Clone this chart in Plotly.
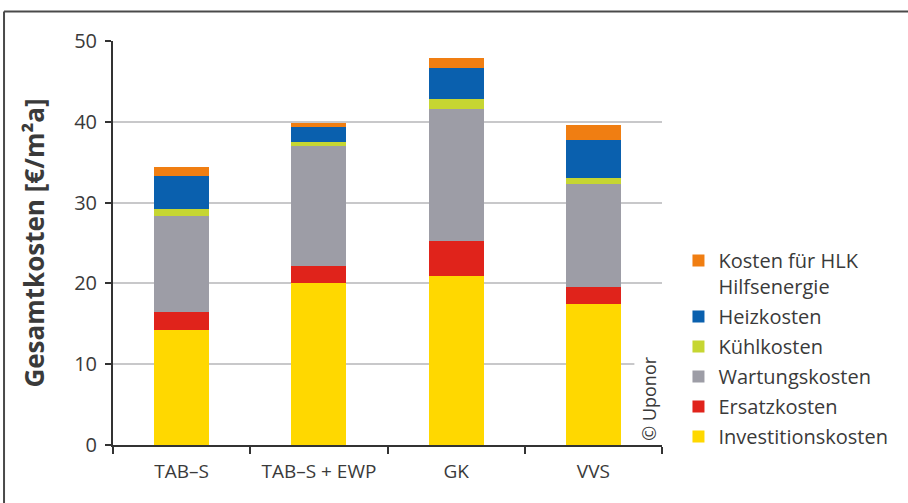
import plotly.graph_objects as go

# Gesamtkosten je System, gestapelt nach Kostenart [€/m²a]
categories = ["TAB–S", "TAB–S + EWP", "GK", "VVS"]
investitionskosten = [14.2, 20.1, 20.9, 17.4]
ersatzkosten = [2.3, 2.0, 4.4, 2.15]
wartungskosten = [11.8, 14.9, 16.3, 12.8]
kuehlkosten = [0.9, 0.5, 1.25, 0.75]
heizkosten = [4.15, 1.8, 3.8, 4.7]
hlk_hilfsenergie = [1.05, 0.6, 1.3, 1.8]

y_ticks = [0, 10, 20, 30, 40, 50]

series = [
    ("Investitionskosten", investitionskosten, "#FFD800"),
    ("Ersatzkosten", ersatzkosten, "#E0231B"),
    ("Wartungskosten", wartungskosten, "#9D9DA6"),
    ("Kühlkosten", kuehlkosten, "#C6D632"),
    ("Heizkosten", heizkosten, "#0A60AE"),
    ("Kosten für HLK<br>Hilfsenergie", hlk_hilfsenergie, "#F07E12"),
]

text_color = "#3a3a3a"
font_family = "Open Sans, sans-serif"

fig = go.Figure()
n = len(series)
for i, (name, vals, color) in enumerate(series):
    fig.add_trace(go.Bar(
        x=categories,
        y=vals,
        name=name,
        legendgroup=f"g{i}",
        legendrank=n - i,  # oberste Kostenart zuerst in der Legende
        marker=dict(color=color, line=dict(width=0)),
    ))

fig.update_layout(
    width=908,
    height=503,
    barmode="stack",
    bargap=0.6,
    plot_bgcolor="white",
    paper_bgcolor="white",
    margin=dict(l=113, r=246, t=41, b=58, autoexpand=False),
    font=dict(family=font_family, color=text_color, size=19),
    legend=dict(
        traceorder="grouped",
        tracegroupgap=1,
        valign="top",
        x=1.03,
        xanchor="left",
        y=0.505,
        yanchor="top",
        font=dict(size=20, color=text_color),
        bgcolor="rgba(0,0,0,0)",
        itemclick=False,
    ),
    xaxis=dict(
        type="category",
        tickson="boundaries",
        ticks="outside",
        ticklen=7,
        tickwidth=2,
        tickcolor="#333333",
        showline=True,
        linecolor="#333333",
        linewidth=2,
        showgrid=False,
        ticklabelstandoff=8,
        tickfont=dict(size=19, color=text_color),
    ),
    yaxis=dict(
        range=[0, 50],
        tickvals=y_ticks,
        ticks="outside",
        ticklen=6,
        tickwidth=2,
        tickcolor="#333333",
        showline=True,
        linecolor="#333333",
        linewidth=2,
        showgrid=True,
        gridcolor="#C8C8CA",
        gridwidth=2,
        zeroline=False,
        ticklabelstandoff=4,
        tickfont=dict(size=20, color=text_color),
        title=dict(
            text="Gesamtkosten [€/m²a]",
            font=dict(size=26, color=text_color, family="Open Sans, sans-serif", weight="bold"),
            standoff=22,
        ),
    ),
    showlegend=True,
)

# Bildnachweis, senkrecht am rechten Rand der Zeichenfläche
fig.add_annotation(
    text="© Uponor",
    textangle=-90,
    xref="paper",
    yref="paper",
    x=0.976,
    y=0.114,
    xanchor="center",
    yanchor="middle",
    showarrow=False,
    font=dict(size=18, color=text_color),
    bgcolor="white",
    borderpad=2,
)

# Rahmen oben und links
fig.add_shape(type="line", xref="paper", yref="paper",
              x0=-0.1985, x1=1.5, y0=1.073, y1=1.073,
              line=dict(color="#4a4a4a", width=2))
fig.add_shape(type="line", xref="paper", yref="paper",
              x0=-0.1985, x1=-0.1985, y0=1.073, y1=-0.3,
              line=dict(color="#4a4a4a", width=2))

fig.write_html("out.html")
